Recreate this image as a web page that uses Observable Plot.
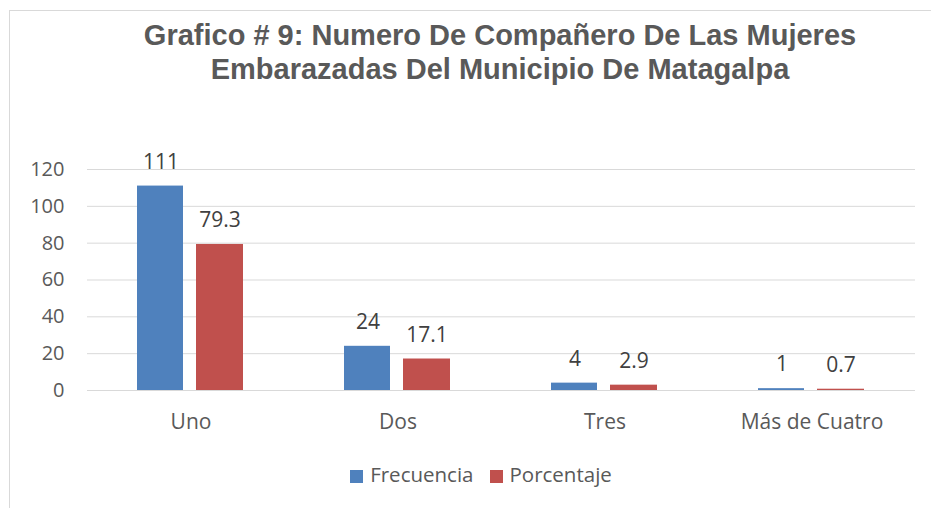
<!DOCTYPE html>
<html>
<head>
<meta charset="utf-8">
<script src="https://cdn.jsdelivr.net/npm/d3@7"></script>
<script src="https://cdn.jsdelivr.net/npm/@observablehq/plot@0.6"></script>
<style>
  html, body { margin: 0; padding: 0; background: #fff; overflow: hidden; }
  #wrap { position: relative; width: 931px; height: 508px; overflow: hidden; }
  #frame { position: absolute; left: 9px; top: 10px; width: 1000px; height: 600px; border: 1px solid #d9d9d9; box-sizing: border-box; }
  #title { position: absolute; left: 0; width: 1000px; top: 18px; text-align: center; font-family: "Liberation Sans", Arial, sans-serif; font-weight: bold; font-size: 29px; line-height: 34px; color: #595959; }
  #chart { position: absolute; left: 0; top: 0; }
  #legend { position: absolute; left: 0; width: 962px; top: 460px; text-align: center; font-family: "Open Sans", Lato, sans-serif; font-size: 20.5px; color: #595959; }
  #legend span.item { display: inline-block; margin: 0 8px; }
  #legend span.sw { display: inline-block; width: 13px; height: 13px; margin-right: 7px; vertical-align: -1px; }
</style>
</head>
<body>
<div id="wrap">
  <div id="frame"></div>
  <div id="title">Grafico # 9: Numero De Compañero De Las Mujeres<br>Embarazadas Del Municipio De Matagalpa</div>
  <div id="chart"></div>
  <div id="legend"></div>
</div>
<script>
const categories = ["Uno", "Dos", "Tres", "Más de Cuatro"];
const frecuencia = [111, 24, 4, 1];
const porcentaje = [79.3, 17.1, 2.9, 0.7];
const seriesNames = ["Frecuencia", "Porcentaje"];
const seriesColors = ["#4F81BD", "#C0504D"];
const yTicks = [0, 20, 40, 60, 80, 100, 120];

const freqData = categories.map((c, i) => ({cat: c, value: frecuencia[i]}));
const pctData = categories.map((c, i) => ({cat: c, value: porcentaje[i]}));

const chart = Plot.plot({
  width: 931,
  height: 440,
  marginTop: 169,
  marginBottom: 50,
  marginLeft: 87,
  marginRight: 16,
  style: {fontFamily: "'Open Sans', Lato, sans-serif", fontSize: "20px", color: "#595959", background: "transparent"},
  x: {domain: categories, padding: 0, label: null, tickSize: 0, tickPadding: 24},
  y: {domain: [0, 120], ticks: yTicks, label: null, tickSize: 0, tickPadding: 23},
  marks: [
    Plot.ruleY(yTicks, {stroke: "#d9d9d9", strokeWidth: 1}),
    Plot.axisX({tickSize: 0, tickPadding: 24, fontSize: 21, label: null}),
    Plot.barY(freqData, {x: "cat", y: "value", fill: seriesColors[0], insetLeft: 50, insetRight: 111}),
    Plot.barY(pctData, {x: "cat", y: "value", fill: seriesColors[1], insetLeft: 109, insetRight: 51}),
    Plot.text(freqData, {x: "cat", y: "value", text: d => String(d.value), dx: -30, dy: -24, fill: "#404040", fontSize: 21}),
    Plot.text(pctData, {x: "cat", y: "value", text: d => d.value.toFixed(1), dx: 29, dy: -24, fill: "#404040", fontSize: 21})
  ]
});
document.getElementById("chart").appendChild(chart);

const legend = document.getElementById("legend");
seriesNames.forEach((n, i) => {
  const item = document.createElement("span");
  item.className = "item";
  const sw = document.createElement("span");
  sw.className = "sw";
  sw.style.background = seriesColors[i];
  item.appendChild(sw);
  item.appendChild(document.createTextNode(n));
  legend.appendChild(item);
});
</script>
</body>
</html>
